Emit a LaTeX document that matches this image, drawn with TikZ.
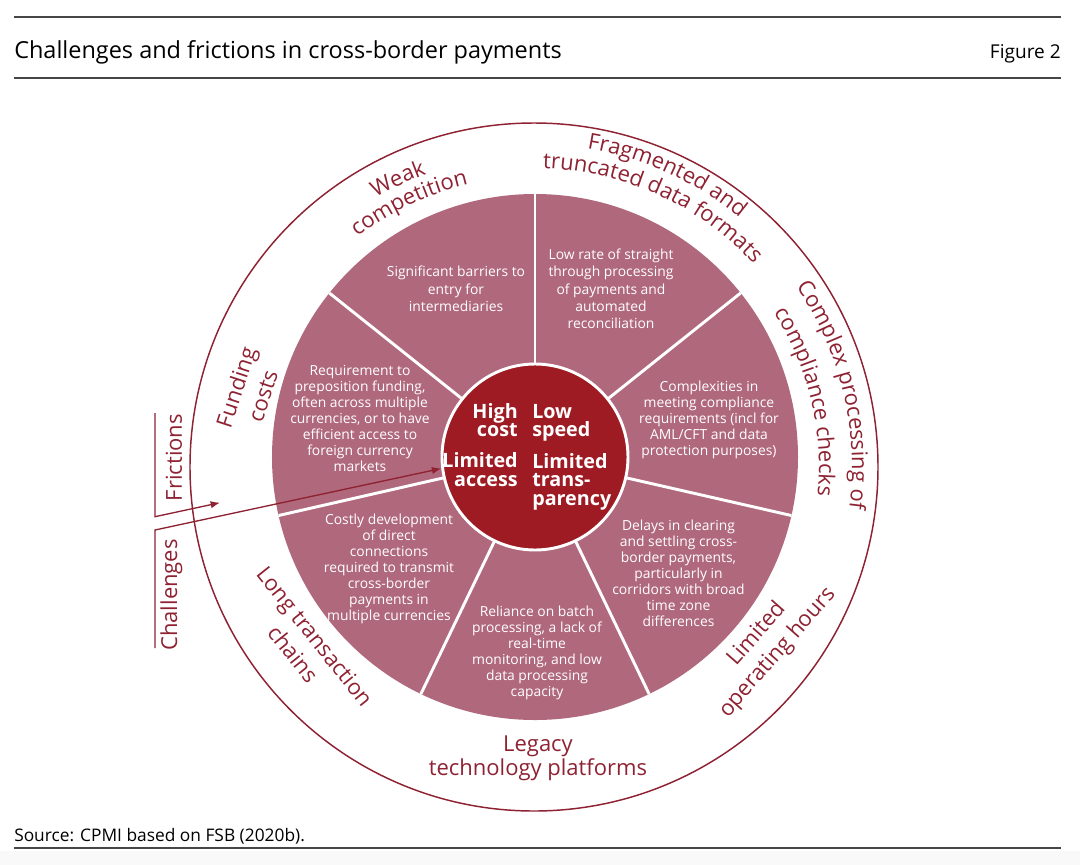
\documentclass[tikz,border=0pt]{standalone}
\usepackage{fontspec}
\setmainfont{Open Sans}
\usetikzlibrary{arrows.meta, decorations.text}

\definecolor{segfill}{RGB}{176,104,124}
\definecolor{corered}{RGB}{158,27,35}
\definecolor{lblred}{RGB}{142,34,50}
\definecolor{rulegray}{RGB}{70,70,70}
\newcommand{\lblfont}{\fontsize{16.5}{21}\selectfont}

\begin{document}
\begin{tikzpicture}[x=0.75pt, y=0.75pt, >={Latex[length=7pt,width=5.5pt]},
    seg/.style={text=white, align=center, inner sep=0,
                font=\fontsize{10.4}{12}\selectfont},
    ctr/.style={text=white, inner sep=0, font=\fontsize{14.8}{13.8}\selectfont\bfseries},
    core/.style={circle, fill=corered, draw=white, line width=2.2pt,
                 minimum size=139.5pt, inner sep=0},
    lbl/.style={text=lblred, align=center, inner sep=0, font=\lblfont},
    sep/.style={draw=white, line width=2.2pt},
    ring/.style={draw=lblred, line width=1.1pt},
    rule/.style={draw=rulegray, line width=1.1pt},
    link/.style={draw=lblred, line width=1pt}]
  \useasboundingbox (-535,-408) rectangle (545,457);
  \fill[gray!5] (-535,-408) rectangle (545,-394);

  % header and footer
  \draw[rule] (-521,440) -- (526,440);
  \draw[rule] (-521,379) -- (526,379);
  \draw[rule] (-521,-391) -- (526,-391);
  \node[anchor=base west, inner sep=0, font=\fontsize{17.6}{20}\selectfont] (title) at (-521,398)
    {Challenges and frictions in cross-border payments};
  \node[anchor=base east, inner sep=0, font=\fontsize{14.3}{17}\selectfont] (fig) at (526,398) {Figure 2};
  \node[anchor=base west, inner sep=0, font=\fontsize{13}{15}\selectfont] (src) at (-521,-384)
    {Source: CPMI based on FSB (2020b).};

  % outer ring and pie
  \coordinate (oc) at (-1,-10);
  \draw[ring] (oc) circle[radius=344];
  \fill[segfill] (0,0) circle[radius=263];
  \foreach \a in {0,...,6}
    \draw[sep] (0,0) -- ({90+\a*360/7}:263);
  \node[core] (core) at (0,0) {};

  % centre
  \node[ctr, anchor=east, align=right] (hc) at (-17,37) {High\\cost};
  \node[ctr, anchor=east, align=right] (la) at (-17,-12.5) {Limited\\access};
  \node[ctr, anchor=west, align=left] (ls) at (-3,34) {Low\\speed};
  \node[ctr, anchor=west, align=left] (lt) at (-3,-24.5) {Limited\\trans-\\parency};

  % segments
  \node[seg, font=\fontsize{10.4}{13}\selectfont] (barr) at (-79,168)
    {Significant barriers to\\entry for\\intermediaries};
  \node[seg, font=\fontsize{10.4}{13}\selectfont] (stp) at (76,168)
    {Low rate of straight\\through processing\\of payments and\\automated\\reconciliation};
  \node[seg] (cmpl) at (174,37)
    {Complexities in\\meeting compliance\\requirements (incl for\\AML/CFT and data\\protection purposes)};
  \node[seg] (dly) at (143.5,-116)
    {Delays in clearing\\and settling cross-\\border payments,\\particularly in\\corridors with broad\\time zone\\differences};
  \node[seg] (btch) at (2,-195.5)
    {Reliance on batch\\processing, a lack of\\real-time\\monitoring, and low\\data processing\\capacity};
  \node[seg] (conn) at (-146,-111.5)
    {Costly development\\of direct\\connections\\required to transmit\\cross-border\\payments in\\multiple currencies};
  \node[seg] (fnd) at (-175,39)
    {Requirement to\\preposition funding,\\often across multiple\\currencies, or to have\\efficient access to\\foreign currency\\markets};

  % frictions on the ring
  \path[decorate, decoration={text along path, text align=center,
      text={|\lblfont\color{lblred}|Weak}}]
    (oc) ++(160.3:312) arc[start angle=160.3, end angle=70.3, radius=312];
  \path[decorate, decoration={text along path, text align=center,
      text={|\lblfont\color{lblred}|competition}}]
    (oc) ++(160.3:290) arc[start angle=160.3, end angle=70.3, radius=290];
  \path[decorate, decoration={text along path, text align=center,
      text={|\lblfont\color{lblred}|Fragmented and}}]
    (oc) ++(115.5:323) arc[start angle=115.5, end angle=15.5, radius=323];
  \path[decorate, decoration={text along path, text align=center,
      text={|\lblfont\color{lblred}|truncated data formats}}]
    (oc) ++(115.5:299) arc[start angle=115.5, end angle=15.5, radius=299];
  \path[decorate, decoration={text along path, text align=center,
      text={|\lblfont\color{lblred}|Complex processing of}}]
    (oc) ++(63.5:318) arc[start angle=63.5, end angle=-36.5, radius=318];
  \path[decorate, decoration={text along path, text align=center,
      text={|\lblfont\color{lblred}|compliance checks}}]
    (oc) ++(63.5:285) arc[start angle=63.5, end angle=-36.5, radius=285];
  \node[lbl, rotate=48.7] (hours) at (232.5,-186.5) {Limited\\operating hours};
  \node[lbl, font=\fontsize{16.5}{18}\selectfont] (legacy) at (3,-301) {Legacy\\technology platforms};
  \node[lbl, rotate=-51.4] (chains) at (-231,-188) {Long transaction\\chains};
  \node[lbl, rotate=72] (funding) at (-286,65.5) {Funding\\costs};

  % brackets
  \node[lbl, rotate=90] (fric) at (-361,-0.5) {Frictions};
  \node[lbl, rotate=90] (chal) at (-363.5,-138) {Challenges};
  \coordinate (frtop) at (-380,44);
  \coordinate (frbot) at (-380,-59.7);
  \coordinate (frtip) at (-315,-45.7);
  \coordinate (chtop) at (-380,-73);
  \coordinate (chbot) at (-380,-191);
  \draw[link, ->] (frtop) -- (frbot) -- (frtip);
  \draw[link, ->] (chbot) -- (chtop) -- (core.187.5);
\end{tikzpicture}
\end{document}
